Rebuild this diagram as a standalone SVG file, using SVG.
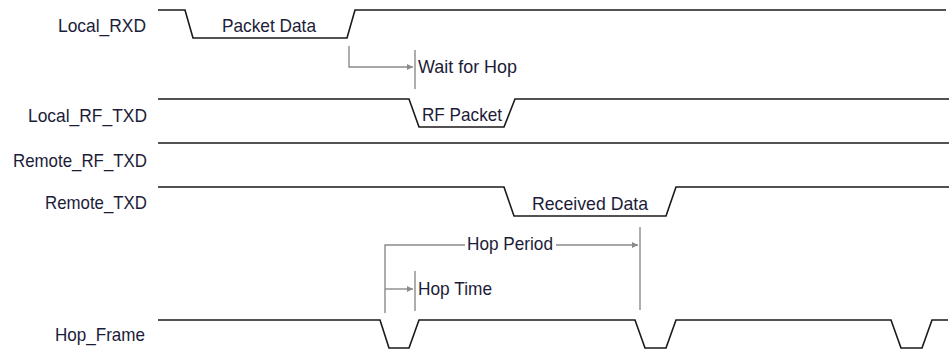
<svg xmlns="http://www.w3.org/2000/svg" width="949" height="351" viewBox="0 0 949 351">
<defs>
<style>
.sig{fill:none;stroke:#1a1a1a;stroke-width:1.6;stroke-linejoin:miter}
.con{fill:none;stroke:#8a8a8a;stroke-width:1.4}
.t{font-family:"Liberation Sans",Arial,sans-serif;font-size:19px;fill:#1c1c38}
</style>
<marker id="arr" viewBox="0 0 10 10" refX="10" refY="5" markerWidth="7" markerHeight="6" markerUnits="userSpaceOnUse" orient="auto"><path d="M0,0 L10,5 L0,10 Z" fill="#8a8a8a"/></marker>
</defs>
<rect width="949" height="351" fill="#fff"/>
<g id="local_rxd">
<text class="t" x="58" y="32" textLength="88" lengthAdjust="spacingAndGlyphs">Local_RXD</text>
<path class="sig" d="M158,10 H185 L193,38 H347 L355,10 H946"/>
<text class="t" x="222" y="32" textLength="94" lengthAdjust="spacingAndGlyphs">Packet Data</text>
</g>
<g id="local_rf_txd">
<text class="t" x="28" y="122" textLength="119" lengthAdjust="spacingAndGlyphs">Local_RF_TXD</text>
<path class="sig" d="M158,99 H409 L419,127 H504 L515,99 H949"/>
<text class="t" x="422" y="121" textLength="80" lengthAdjust="spacingAndGlyphs">RF Packet</text>
</g>
<g id="remote_rf_txd">
<text class="t" x="13" y="167" textLength="134" lengthAdjust="spacingAndGlyphs">Remote_RF_TXD</text>
<path class="sig" d="M158,143 H949"/>
</g>
<g id="remote_txd">
<text class="t" x="45" y="209" textLength="102" lengthAdjust="spacingAndGlyphs">Remote_TXD</text>
<path class="sig" d="M158,187 H504 L514,216 H666 L676,187 H949"/>
<text class="t" x="532" y="210" textLength="116" lengthAdjust="spacingAndGlyphs">Received Data</text>
</g>
<g id="hop_frame">
<text class="t" x="55" y="341" textLength="90" lengthAdjust="spacingAndGlyphs">Hop_Frame</text>
<path class="sig" d="M158,320 H380 L389,348 H409 L419,320 H635 L645,348 H666 L676,320 H891 L901,348 H922 L932,320 H948"/>
</g>
<g id="connectors">
<path class="con" d="M349,46 V67 H413" marker-end="url(#arr)"/>
<path class="con" d="M415,50 V89"/>
<text class="t" x="418" y="73" textLength="99" lengthAdjust="spacingAndGlyphs">Wait for Hop</text>
<path class="con" d="M385,313 V245 H465"/>
<path class="con" d="M556,245 H638" marker-end="url(#arr)"/>
<path class="con" d="M640,227 V310"/>
<text class="t" x="467" y="250" textLength="86" lengthAdjust="spacingAndGlyphs">Hop Period</text>
<path class="con" d="M385,289 H413" marker-end="url(#arr)"/>
<path class="con" d="M415,271 V311"/>
<text class="t" x="418" y="295" textLength="74" lengthAdjust="spacingAndGlyphs">Hop Time</text>
</g>
</svg>
